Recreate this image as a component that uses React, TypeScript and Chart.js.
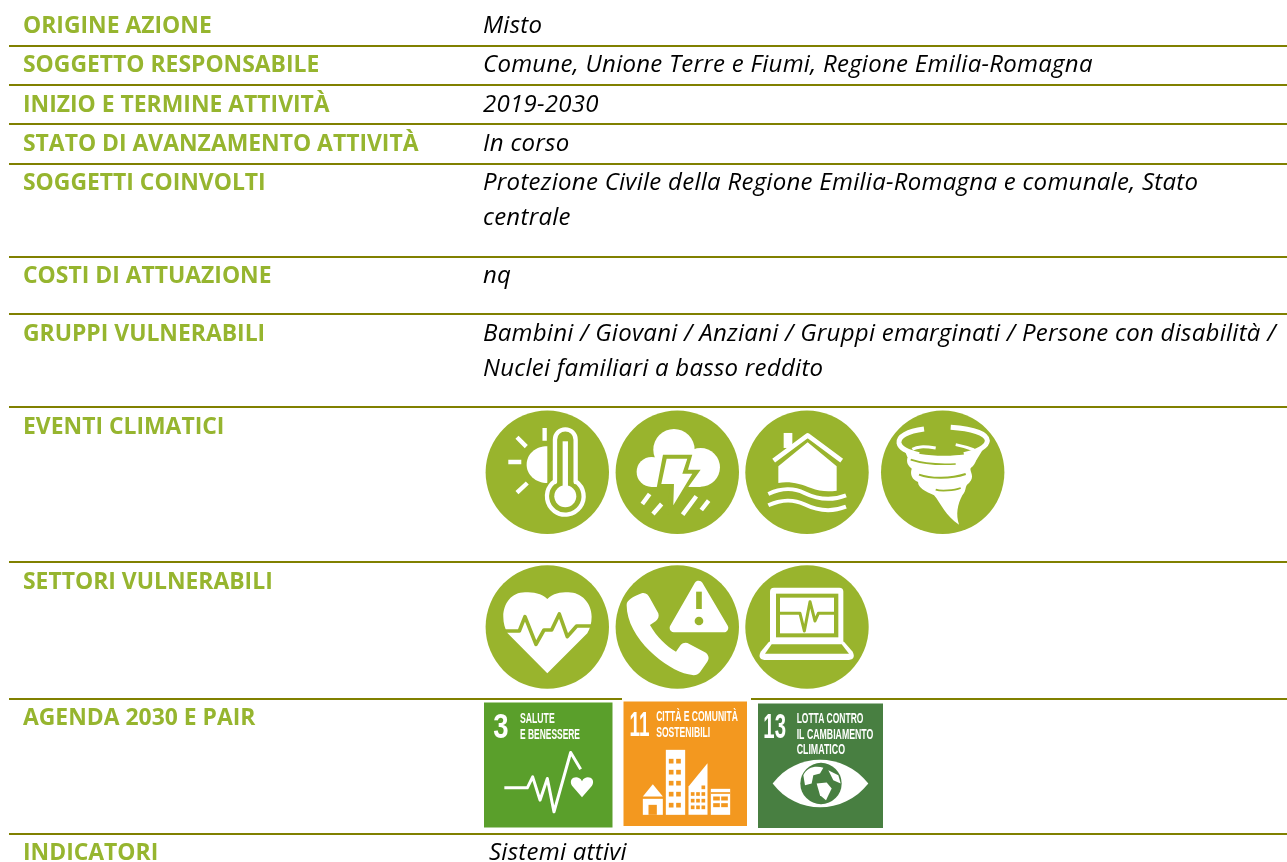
import React, { useEffect, useRef } from "react";
import { Chart, registerables } from "chart.js";

Chart.register(...registerables);

// ---------- content ----------
const fieldLabels = [
  "ORIGINE AZIONE",
  "SOGGETTO RESPONSABILE",
  "INIZIO E TERMINE ATTIVITÀ",
  "STATO DI AVANZAMENTO ATTIVITÀ",
  "SOGGETTI COINVOLTI",
  "COSTI DI ATTUAZIONE",
  "GRUPPI VULNERABILI",
  "EVENTI CLIMATICI",
  "SETTORI VULNERABILI",
  "AGENDA 2030 E PAIR",
  "INDICATORI",
];
const fieldLabelCentres = [26, 65, 105, 144, 183, 276, 334, 427, 582, 718, 853];

const valueLines = [
  "Misto",
  "Comune, Unione Terre e Fiumi, Regione Emilia-Romagna",
  "2019-2030",
  "In corso",
  "Protezione Civile della Regione Emilia-Romagna e comunale, Stato",
  "centrale",
  "nq",
  "Bambini / Giovani / Anziani / Gruppi emarginati / Persone con disabilità /",
  "Nuclei familiari a basso reddito",
  "Sistemi attivi",
];
const valueLineCentres = [26, 65, 105, 144, 183, 218, 276, 334, 369, 853];
const valueLineLefts = [483, 483, 483, 483, 483, 483, 483, 483, 483, 489];

const ruleRows = [46, 85, 124, 164, 257, 314, 407, 562, 699, 834];

const climateIconX = [547.3, 677.3, 807, 942.7];
const sectorIconX = [547.3, 677.3, 807];
const climateIconY = 472.3;
const sectorIconY = 627;

const GREEN = "#99B42D";
const RULE = "#808000";
const LABEL = "#96B52F";

type Ctx = CanvasRenderingContext2D;

// ---------- glyphs, each drawn at 3x in its own local space ----------
function poly(c: Ctx, pts: number[][]) {
  c.beginPath();
  pts.forEach((p, i) => (i ? c.lineTo(p[0], p[1]) : c.moveTo(p[0], p[1])));
  c.closePath();
}
function stroke(c: Ctx, d: string, w: number, col = "#fff") {
  c.strokeStyle = col;
  c.lineWidth = w;
  c.lineJoin = "round";
  c.lineCap = "butt";
  c.stroke(new Path2D(d));
}
function fill(c: Ctx, d: string, col = "#fff") {
  c.fillStyle = col;
  c.fill(new Path2D(d));
}
function disc(c: Ctx, x: number, y: number, r: number, col = "#fff") {
  c.fillStyle = col;
  c.beginPath();
  c.arc(x, y, r, 0, Math.PI * 2);
  c.fill();
}

function thermo(c: Ctx) {
  fill(c, "M190 115 C155 115 128 138 128 170 C128 200 155 225 190 225 Z");
  stroke(c, "M182 60 L182 98 M99 88 L127 116 M73 162 L112 162 M99 254 L130 225", 13);
  c.strokeStyle = GREEN;
  c.lineWidth = 24;
  c.beginPath();
  c.moveTo(213, 222);
  c.lineTo(213, 95);
  c.arc(244, 95, 31, Math.PI, 0);
  c.lineTo(275, 222);
  c.arc(244, 265, 55, (-54 * Math.PI) / 180, (233.8 * Math.PI) / 180);
  c.closePath();
  c.fillStyle = GREEN;
  c.fill();
  c.stroke();
  c.strokeStyle = "#fff";
  c.lineWidth = 13;
  c.stroke();
  stroke(c, "M244 100 L244 240", 16);
  disc(c, 244, 265, 33);
}
function storm(c: Ctx) {
  disc(c, 503, 192, 45);
  disc(c, 570, 125, 62);
  disc(c, 650, 178, 58);
  c.fillStyle = "#fff";
  c.fillRect(503, 170, 147, 67);
  fill(c, "M537 140 L625 140 L612 185 L650 185 L552 322 L556 240 L518 240 Z", GREEN);
  fill(c, "M548 152 L610 152 L595 197 L625 197 L568 292 L570 228 L532 228 Z");
  stroke(c, "M497 258 L475 288 M533 288 L507 318 M637 265 L596 320 M674 278 L652 306", 13);
}
function house(c: Ctx) {
  fill(c, "M102 175 L190 103 L277 175 L277 248 C250 252 225 250 200 240 C170 228 135 218 102 225 Z");
  c.fillStyle = "#fff";
  c.fillRect(118, 75, 26, 45);
  stroke(c, "M88 158 L190 82 L292 158", 14);
  stroke(c, "M72 258 C110 240 150 240 180 255 C215 272 260 280 305 262", 12);
  stroke(c, "M72 292 C110 274 150 274 180 289 C215 306 260 314 305 296", 12);
}
function tornado(c: Ctx) {
  stroke(c, "M540 63 C490 70 462 85 465 105 C468 122 490 132 525 140", 15);
  stroke(c, "M620 58 C680 62 728 75 730 98 C728 118 700 130 660 140", 15);
  fill(c, "M480 122 C520 150 680 150 718 122 L695 160 C650 185 540 185 495 160 Z");
  fill(c, "M490 150 C485 170 500 178 503 182 C497 200 505 215 522 222 C522 240 545 250 570 262 C590 285 605 325 645 350 C635 320 640 290 655 262 C670 245 660 235 675 225 C695 205 675 190 680 180 C700 165 695 150 700 140 Z");
  stroke(c, "M500 155 C540 168 600 170 635 168", 5, GREEN);
  stroke(c, "M525 200 C560 213 620 213 665 198", 6, GREEN);
  stroke(c, "M575 245 C590 250 630 248 650 240", 5, GREEN);
  stroke(c, "M505 124 C520 116 535 114 575 120 M635 110 C650 113 670 118 690 126", 9);
}
function heart(c: Ctx) {
  fill(c, "M232 162 C215 145 190 142 165 142 C125 142 100 175 100 215 C100 235 105 250 113 265 L232 385 L352 265 C360 250 365 235 365 215 C365 175 335 142 295 142 C270 142 250 145 232 162 Z");
  stroke(c, "M100 258 L148 258 L165 215 L198 298 L222 255 L245 255 L268 207 L292 275 L320 243 L365 243", 11, GREEN);
}
function phone(c: Ctx) {
  c.fillStyle = "#fff";
  c.strokeStyle = "#fff";
  c.lineJoin = "round";
  c.lineWidth = 26;
  poly(c, [[686, 120], [762, 249], [612, 249]]);
  c.fill();
  c.stroke();
  stroke(c, "M687 140 L687 192", 17, GREEN);
  disc(c, 687, 228, 13, GREEN);
  fill(c, "M470 180 C470 165 490 155 515 145 C528 142 535 150 540 160 L565 205 C568 215 565 222 558 228 L540 240 C560 275 590 305 618 320 L632 300 C640 292 650 292 658 297 L705 322 C715 328 720 340 712 350 L690 382 C682 392 670 392 655 388 C590 375 470 280 470 180 Z");
}
function laptop(c: Ctx) {
  fill(c, "M897 290 L872 320 Q860 345 890 345 L1130 345 Q1160 345 1148 320 L1122 290 Z");
  fill(c, "M905 298 L1115 298 L1137 326 L885 326 Z", GREEN);
  fill(c, "M900 140 Q900 128 912 128 L1108 128 Q1120 128 1120 140 L1120 292 L900 292 Z");
  c.fillStyle = GREEN;
  c.fillRect(918, 146, 187, 131);
  c.fillStyle = "#fff";
  c.fillRect(930, 158, 162, 107);
  stroke(c, "M930 205 L990 205 L1003 258 L1020 170 L1035 228 L1045 205 L1092 205", 9, GREEN);
}

const climateGlyphs = [
  { draw: thermo, ax: 190, ay: 193 },
  { draw: storm, ax: 580, ay: 193 },
  { draw: house, ax: 188, ay: 193 },
  { draw: tornado, ax: 596, ay: 193 },
];
const sectorGlyphs = [
  { draw: heart, ax: 232, ay: 246 },
  { draw: phone, ax: 622, ay: 246 },
  { draw: laptop, ax: 1011, ay: 246 },
];

function squeezedText(c: Ctx, t: string, x: number, y: number, size: number, w: number) {
  c.font = `bold ${size}px "Liberation Sans Narrow", "Liberation Sans", sans-serif`;
  c.fillStyle = "#fff";
  c.textAlign = "left";
  c.textBaseline = "alphabetic";
  c.fillText(t, x, y, w);
}

function goalHealth(c: Ctx) {
  squeezedText(c, "3", 70, 128, 108, 46);
  squeezedText(c, "SALUTE", 150, 82, 44, 104);
  squeezedText(c, "E BENESSERE", 150, 130, 44, 180);
  stroke(c, "M103 278 L172 278 L188 245 L210 315 L232 250 L252 350 L302 172 L332 222", 9);
  fill(c, "M336 306 L306 272 C292 248 325 236 336 258 C347 236 380 248 366 272 Z");
}
function goalCities(c: Ctx) {
  squeezedText(c, "11", 478, 124, 108, 60);
  squeezedText(c, "CITTÀ E COMUNITÀ", 558, 78, 44, 245);
  squeezedText(c, "SOSTENIBILI", 558, 125, 44, 162);
  c.fillStyle = "#fff";
  c.fillRect(587, 165, 58, 195);
  fill(c, "M655 360 L655 275 L712 205 L712 360 Z");
  c.fillRect(722, 282, 58, 78);
  fill(c, "M518 305 L548 268 L578 305 Z");
  c.fillRect(518, 312, 60, 48);
  c.fillStyle = "#F3981F";
  c.fillRect(535, 330, 25, 30);
  for (let col = 0; col < 2; col++) {
    for (let row = 0; row < 5; row++) {
      c.fillRect(596 + col * 22, 192 + row * 33, 14, 14);
    }
  }
  for (let col = 0; col < 3; col++) {
    for (let row = 0; row < 4; row++) {
      if (!(row === 0 && col < 2)) c.fillRect(662 + col * 16, 272 + row * 20, 11, 11);
    }
  }
  for (let col = 0; col < 2; col++) {
    for (let row = 0; row < 2; row++) {
      c.fillRect(729 + col * 24, 305 + row * 20, 20, 12);
    }
  }
  c.fillRect(722, 292, 58, 5);
}
function goalClimate(c: Ctx) {
  squeezedText(c, "13", 880, 128, 108, 68);
  squeezedText(c, "LOTTA CONTRO", 980, 82, 42, 200);
  squeezedText(c, "IL CAMBIAMENTO", 980, 130, 42, 230);
  squeezedText(c, "CLIMATICO", 980, 177, 42, 145);
  fill(c, "M908 265 C980 170 1120 170 1195 265 C1120 360 980 360 908 265 Z");
  disc(c, 1053, 265, 62, "#487F41");
  fill(c, "M1000 240 C1010 215 1040 210 1060 218 L1050 235 L1030 240 L1025 265 L1005 270 Z");
  fill(c, "M1040 265 L1070 262 L1085 280 L1068 315 L1050 300 Z");
  fill(c, "M1075 225 L1105 240 L1112 265 L1090 255 Z");
}

const goalBoxes = [
  { x0: 484, y0: 702.5, x1: 612.5, y1: 827.5, col: "#5A9F2B", draw: goalHealth, ax: 42, ay: 22 },
  { x0: 623.5, y0: 701.5, x1: 747, y1: 826, col: "#F3981F", draw: goalCities, ax: 460, ay: 20 },
  { x0: 758, y0: 703.5, x1: 883, y1: 828, col: "#487F41", draw: goalClimate, ax: 864, ay: 25 },
];

const sheetPlugin = {
  id: "sheet",
  afterDatasetsDraw(chart: any) {
    const c: any = chart.ctx;
    const X = (v: number) => chart.scales.x.getPixelForValue(v);
    const Y = (v: number) => chart.scales.y.getPixelForValue(v);

    c.save();
    c.textBaseline = "middle";
    c.textAlign = "left";
    c.fillStyle = LABEL;
    c.font = 'bold 22.9px "Open Sans", sans-serif';
    fieldLabels.forEach((t, i) => c.fillText(t, X(23), Y(fieldLabelCentres[i])));
    c.fillStyle = "#000";
    c.font = 'italic 24px "Open Sans", sans-serif';
    c.letterSpacing = "0.27px";
    valueLines.forEach((t, i) => c.fillText(t, X(valueLineLefts[i]), Y(valueLineCentres[i])));
    c.letterSpacing = "0px";
    c.restore();

    const place = (g: any, px: number, py: number) => {
      c.save();
      c.translate(X(px) - g.ax / 3, Y(py) - g.ay / 3);
      c.scale(1 / 3, 1 / 3);
      g.draw(c);
      c.restore();
    };
    climateGlyphs.forEach((g, i) => place(g, climateIconX[i], climateIconY));
    sectorGlyphs.forEach((g, i) => place(g, sectorIconX[i], sectorIconY));

    c.save();
    c.fillStyle = "#fff";
    c.fillRect(X(622), Y(698), 129, 4);
    c.restore();
    goalBoxes.forEach((b) => {
      c.save();
      c.fillStyle = b.col;
      c.fillRect(X(b.x0), Y(b.y0), X(b.x1) - X(b.x0), Y(b.y1) - Y(b.y0));
      c.translate(X(b.x0) - b.ax / 3, Y(b.y0) - b.ay / 3);
      c.scale(1 / 3, 1 / 3);
      b.draw(c);
      c.restore();
    });
  },
};

export default function App() {
  const ref = useRef<HTMLCanvasElement>(null);
  useEffect(() => {
    const rules = ruleRows.map((y) => ({
      type: "scatter",
      showLine: true,
      data: [{ x: 9, y }, { x: 1287, y }],
      borderColor: RULE,
      borderWidth: 2,
      pointRadius: 0,
      order: 2,
    }));
    const chart = new Chart(ref.current!, {
      type: "scatter",
      data: {
        datasets: [
          ...rules,
          {
            label: "Eventi climatici",
            data: climateIconX.map((x) => ({ x, y: climateIconY })),
            backgroundColor: GREEN,
            borderWidth: 0,
            pointRadius: 61.7,
            order: 1,
          },
          {
            label: "Settori vulnerabili",
            data: sectorIconX.map((x) => ({ x, y: sectorIconY })),
            backgroundColor: GREEN,
            borderWidth: 0,
            pointRadius: 61.7,
            order: 1,
          },
        ] as any,
      },
      options: {
        animation: false,
        responsive: false,
        layout: { padding: 0, autoPadding: false },
        plugins: { legend: { display: false }, tooltip: { enabled: false } },
        scales: {
          x: { type: "linear", min: 0, max: 1287, display: false },
          y: { type: "linear", min: 0, max: 862, reverse: true, display: false },
        },
      },
      plugins: [sheetPlugin],
    });
    return () => chart.destroy();
  }, []);
  return (
    <div style={{ position: "fixed", left: 0, top: 0, width: 1287, height: 862, background: "#fff", overflow: "hidden" }}>
      <canvas ref={ref} width={1287} height={862} style={{ display: "block" }} />
    </div>
  );
}
